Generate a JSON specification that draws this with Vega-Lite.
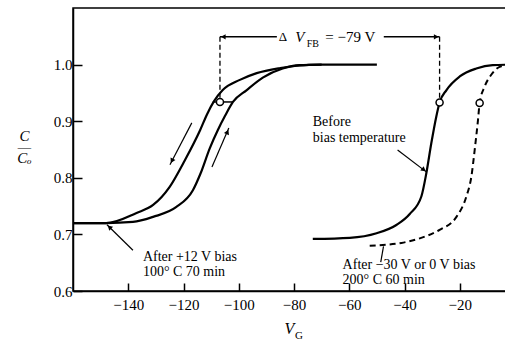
{
  "$schema": "https://vega.github.io/schema/vega-lite/v6.json",
  "width": 442,
  "height": 283,
  "autosize": {"type": "none"},
  "padding": {"left": 73, "top": 8, "right": 0, "bottom": 50},
  "background": "white",
  "config": {"view": {"stroke": "black", "strokeWidth": 1.5}, "font": "Liberation Serif"},
  "datasets": {
    "curves": [
      {"series": "up", "x": -160, "y": 0.72}, {"series": "up", "x": -148, "y": 0.72}, {"series": "up", "x": -137, "y": 0.738},
      {"series": "up", "x": -131, "y": 0.752}, {"series": "up", "x": -125, "y": 0.784}, {"series": "up", "x": -119.5, "y": 0.831},
      {"series": "up", "x": -114, "y": 0.884}, {"series": "up", "x": -111.5, "y": 0.912}, {"series": "up", "x": -109, "y": 0.935},
      {"series": "up", "x": -105.8, "y": 0.955}, {"series": "up", "x": -99.6, "y": 0.973}, {"series": "up", "x": -93.5, "y": 0.985},
      {"series": "up", "x": -85, "y": 0.994}, {"series": "up", "x": -79, "y": 0.998}, {"series": "up", "x": -70, "y": 1.0},
      {"series": "up", "x": -50, "y": 1.0},
      {"series": "down", "x": -160, "y": 0.72}, {"series": "down", "x": -148, "y": 0.72}, {"series": "down", "x": -138.3, "y": 0.722},
      {"series": "down", "x": -131, "y": 0.731}, {"series": "down", "x": -122.7, "y": 0.748}, {"series": "down", "x": -116.6, "y": 0.778},
      {"series": "down", "x": -113.8, "y": 0.808}, {"series": "down", "x": -110.5, "y": 0.852}, {"series": "down", "x": -107.6, "y": 0.884},
      {"series": "down", "x": -105, "y": 0.909}, {"series": "down", "x": -102.1, "y": 0.934}, {"series": "down", "x": -97.1, "y": 0.955},
      {"series": "down", "x": -91.3, "y": 0.977}, {"series": "down", "x": -84.1, "y": 0.993}, {"series": "down", "x": -78, "y": 0.999},
      {"series": "down", "x": -70, "y": 1.0},
      {"series": "before", "x": -73.2, "y": 0.692}, {"series": "before", "x": -59.8, "y": 0.694}, {"series": "before", "x": -50.1, "y": 0.702},
      {"series": "before", "x": -42.8, "y": 0.717}, {"series": "before", "x": -38.1, "y": 0.736}, {"series": "before", "x": -33.9, "y": 0.767},
      {"series": "before", "x": -32.1, "y": 0.808}, {"series": "before", "x": -30.3, "y": 0.861}, {"series": "before", "x": -28.5, "y": 0.908},
      {"series": "before", "x": -27.3, "y": 0.933}, {"series": "before", "x": -24.8, "y": 0.955}, {"series": "before", "x": -20, "y": 0.979},
      {"series": "before", "x": -14, "y": 0.993}, {"series": "before", "x": -8.1, "y": 0.999}, {"series": "before", "x": 0, "y": 1.0},
      {"series": "after", "x": -52.6, "y": 0.68}, {"series": "after", "x": -41.1, "y": 0.685}, {"series": "after", "x": -34.5, "y": 0.693},
      {"series": "after", "x": -27.3, "y": 0.708}, {"series": "after", "x": -21.2, "y": 0.731}, {"series": "after", "x": -17.6, "y": 0.767},
      {"series": "after", "x": -15.8, "y": 0.802}, {"series": "after", "x": -14.6, "y": 0.849}, {"series": "after", "x": -13.4, "y": 0.902},
      {"series": "after", "x": -12.8, "y": 0.932}, {"series": "after", "x": -11, "y": 0.961}, {"series": "after", "x": -8.6, "y": 0.982},
      {"series": "after", "x": -5.6, "y": 0.996}, {"series": "after", "x": -2, "y": 1.0}, {"series": "after", "x": 0, "y": 1.0}
    ],
    "hrules": [
      {"x": -109.4, "x2": -102.1, "y": 0.934},
      {"x": -106.8, "x2": -86.2, "y": 1.049},
      {"x": -47.5, "x2": -27.3, "y": 1.049}
    ],
    "vrules": [
      {"x": -106.8, "y": 1.049, "y2": 0.938},
      {"x": -27.3, "y": 1.049, "y2": 0.937}
    ],
    "arrows": [
      {"x": -117.0, "y": 0.897, "x2": -124.9, "y2": 0.823},
      {"x": -109.7, "y": 0.819, "x2": -103.6, "y2": 0.888},
      {"x": -138.3, "y": 0.672, "x2": -147.7, "y2": 0.717},
      {"x": -42.5, "y": 0.849, "x2": -32.0, "y2": 0.810},
      {"x": -48.6, "y": 0.651, "x2": -47.6, "y2": 0.679}
    ],
    "heads": [
      {"x": -105.6, "y": 1.049, "angle": 270},
      {"x": -28.5, "y": 1.049, "angle": 90},
      {"x": -124.2, "y": 0.830, "angle": 207.6},
      {"x": -104.1, "y": 0.881, "angle": 23.5},
      {"x": -146.8, "y": 0.713, "angle": 313.9},
      {"x": -33.0, "y": 0.814, "angle": 127.2}
    ],
    "circles": [
      {"x": -106.8, "y": 0.934},
      {"x": -27.3, "y": 0.933},
      {"x": -12.8, "y": 0.932}
    ],
    "labels": [
      {"x": -134.7, "y": 0.660, "text": "After +12 V bias"},
      {"x": -134.7, "y": 0.634, "text": "100° C 70 min"},
      {"x": -73.2, "y": 0.899, "text": "Before"},
      {"x": -73.2, "y": 0.870, "text": "bias temperature"},
      {"x": -62.4, "y": 0.646, "text": "After −30 V or 0 V bias"},
      {"x": -62.4, "y": 0.619, "text": "200° C 60 min"}
    ]
  },
  "encoding": {
    "x": {
      "field": "x", "type": "quantitative",
      "scale": {"domain": [-160, 0], "nice": false, "zero": false},
      "axis": {
        "values": [-140, -120, -100, -80, -60, -40, -20, 0],
        "grid": false, "tickSize": -8, "tickWidth": 1.5, "tickColor": "black",
        "domainColor": "black", "domainWidth": 1.5,
        "labelFont": "Liberation Serif", "labelFontSize": 15, "labelColor": "black", "labelPadding": 14,
        "title": "V", "titleFont": "Liberation Serif", "titleFontStyle": "italic", "titleFontWeight": "normal",
        "titleFontSize": 16, "titleColor": "black", "titleX": 216, "titleY": 42, "titleBaseline": "alphabetic"
      }
    },
    "y": {
      "field": "y", "type": "quantitative",
      "scale": {"domain": [0.6, 1.1], "nice": false, "zero": false},
      "axis": {
        "values": [0.6, 0.7, 0.8, 0.9, 1.0], "format": ".1f",
        "grid": false, "tickSize": -9, "tickWidth": 1.5, "tickColor": "black",
        "domainColor": "black", "domainWidth": 1.5,
        "labelFont": "Liberation Serif", "labelFontSize": 15, "labelColor": "black", "labelPadding": 10,
        "title": ["C", "—", "Cₒ"], "titleAngle": 0, "titleFont": "Liberation Serif", "titleFontStyle": "italic",
        "titleFontWeight": "normal", "titleFontSize": 15, "titleColor": "black", "titleLineHeight": 11,
        "titleX": -49, "titleY": 132, "titleAlign": "center", "titleBaseline": "alphabetic"
      }
    }
  },
  "layer": [
    {
      "data": {"name": "curves"},
      "transform": [{"filter": "datum.series != 'after'"}],
      "mark": {"type": "line", "color": "black", "strokeWidth": 2.2, "interpolate": "monotone"},
      "encoding": {"detail": {"field": "series"}}
    },
    {
      "data": {"name": "curves"},
      "transform": [{"filter": "datum.series == 'after'"}],
      "mark": {"type": "line", "color": "black", "strokeWidth": 2, "strokeDash": [6, 4], "interpolate": "monotone"},
      "encoding": {}
    },
    {
      "data": {"name": "hrules"},
      "mark": {"type": "rule", "color": "black", "strokeWidth": 1.5},
      "encoding": {"x2": {"field": "x2"}}
    },
    {
      "data": {"name": "vrules"},
      "mark": {"type": "rule", "color": "black", "strokeWidth": 1.3, "strokeDash": [5, 3]},
      "encoding": {"y2": {"field": "y2"}}
    },
    {
      "data": {"name": "arrows"},
      "mark": {"type": "rule", "color": "black", "strokeWidth": 1.2},
      "encoding": {"x2": {"field": "x2"}, "y2": {"field": "y2"}}
    },
    {
      "data": {"name": "heads"},
      "mark": {"type": "point", "shape": "triangle-up", "filled": true, "color": "black", "size": 30, "opacity": 1},
      "encoding": {"angle": {"field": "angle", "type": "quantitative", "scale": null}}
    },
    {
      "data": {"name": "circles"},
      "mark": {"type": "point", "shape": "circle", "filled": true, "fill": "white", "stroke": "black", "strokeWidth": 1.5, "size": 50, "opacity": 1}
    },
    {
      "data": {"name": "labels"},
      "mark": {"type": "text", "align": "left", "baseline": "middle", "font": "Liberation Serif", "fontSize": 14, "color": "black"},
      "encoding": {"text": {"field": "text"}}
    },
    {
      "data": {"values": [{"x": -84.0, "y": 1.049, "text": "Δ"}]},
      "mark": {"type": "text", "align": "center", "baseline": "middle", "font": "Liberation Serif", "fontSize": 13, "color": "black"},
      "encoding": {"text": {"field": "text"}}
    },
    {
      "data": {"values": [{"x": -77.9, "y": 1.049, "text": "V"}]},
      "mark": {"type": "text", "align": "center", "baseline": "middle", "font": "Liberation Serif", "fontStyle": "italic", "fontSize": 15, "color": "black"},
      "encoding": {"text": {"field": "text"}}
    },
    {
      "data": {"values": [{"x": -73.2, "y": 1.036, "text": "FB"}]},
      "mark": {"type": "text", "align": "center", "baseline": "middle", "font": "Liberation Serif", "fontSize": 10, "color": "black"},
      "encoding": {"text": {"field": "text"}}
    },
    {
      "data": {"values": [{"x": -59.6, "y": 1.049, "text": "= −79 V"}]},
      "mark": {"type": "text", "align": "center", "baseline": "middle", "font": "Liberation Serif", "fontSize": 15, "color": "black"},
      "encoding": {"text": {"field": "text"}}
    },
    {
      "data": {"values": [{"x": -78.2, "y": 0.52, "text": "G"}]},
      "mark": {"type": "text", "align": "center", "baseline": "middle", "font": "Liberation Serif", "fontSize": 11, "color": "black"},
      "encoding": {"text": {"field": "text"}}
    }
  ]
}
